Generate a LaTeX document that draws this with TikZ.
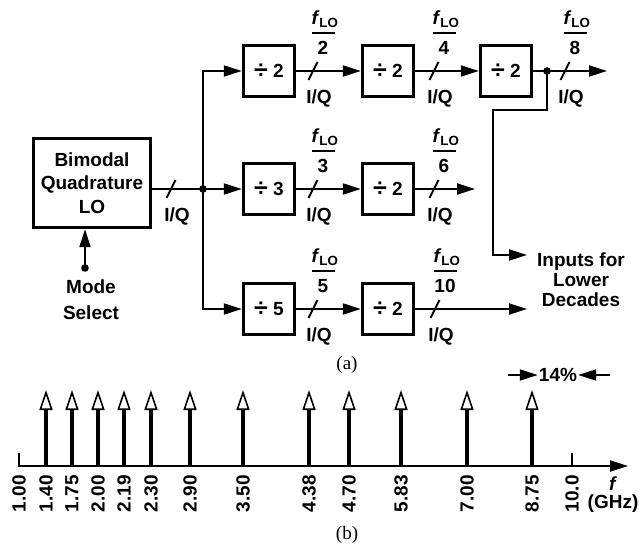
\documentclass[tikz,border=0pt]{standalone}
\usepackage{fontspec}
\setmainfont{Liberation Serif}
\newfontfamily\hv{Liberation Sans}
\usetikzlibrary{arrows.meta}

\newcommand\dv{\raisebox{-1pt}{\fontsize{25}{25}\selectfont ÷}}

\tikzset{
  iq/.pic={
    \draw[line width=1.9pt] (-4.5,9) -- (4.5,-9);
    \node[lbl] (-t) at (6,27) {I/Q};
  },
  flo/.pic={
    \node[lbl] (-num) at (12,-52) {\textit{f}\textsubscript{LO}};
    \draw[line width=2pt] (-1,-38) -- (22,-38);
    \node[lbl] (-den) at (10,-23) {#1};
  }
}

\begin{document}
\begin{tikzpicture}[x=1pt, y=-1pt,
    lbl/.style={font=\hv\bfseries\fontsize{19}{22}\selectfont, inner sep=1pt},
    divbox/.style={draw, line width=3.4pt, minimum width=51pt, minimum height=51pt, lbl},
    wire/.style={line width=2pt},
    sig/.style={wire, -{Triangle[length=18pt, width=11pt]}},
    imp/.style={line width=3.4pt, -{Triangle[open, length=20pt, width=13pt, line width=1.6pt]}}]
  \useasboundingbox (0,0) rectangle (640,548);

  % Oscilador y selector de modo
  \node[draw, line width=3.4pt, minimum width=117pt, minimum height=89pt, align=center,
        font=\hv\bfseries\fontsize{19}{23.5}\selectfont] (lo) at (92,183)
        {Bimodal\\Quadrature\\LO};
  \node[align=center, font=\hv\bfseries\fontsize{19}{26}\selectfont] (mode) at (91,300)
        {Mode\\Select};
  \coordinate (ms) at (85,268);
  \fill (ms) circle (3.8);
  \draw[sig] (ms) -- (ms |- lo.south);

  % Divisores
  \node[divbox] (d2a) at (269,71)  {\dv\ 2};
  \node[divbox] (d2b) at (388,71)  {\dv\ 2};
  \node[divbox] (d2c) at (506,71)  {\dv\ 2};
  \node[divbox] (d3)  at (269,189) {\dv\ 3};
  \node[divbox] (d2d) at (388,189) {\dv\ 2};
  \node[divbox] (d5)  at (269,309) {\dv\ 5};
  \node[divbox] (d2e) at (388,309) {\dv\ 2};

  % Reparto de la salida I/Q
  \coordinate (j) at (203,189);
  \draw[wire] (lo.east |- j) -- (j);
  \fill (j) circle (3.8);
  \draw[sig] (j) |- (d2a);
  \draw[sig] (j) -- (d3);
  \draw[sig] (j) |- (d5);

  % Cadenas de divisores
  \coordinate (k) at (547,71);
  \coordinate (o8) at (607,71);
  \coordinate (o6) at (475,189);
  \coordinate (o10) at (527,309);
  \coordinate (fb) at (527,255);
  \draw[sig] (d2a) -- (d2b);
  \draw[sig] (d2b) -- (d2c);
  \draw[wire] (d2c) -- (k);
  \fill (k) circle (3.8);
  \draw[sig] (k) -- (o8);
  \draw[sig] (k) -- ++(0,39) -- ++(-54,0) |- (fb);
  \draw[sig] (d3) -- (d2d);
  \draw[sig] (d2d) -- (o6);
  \draw[sig] (d5) -- (d2e);
  \draw[sig] (d2e) -- (o10);
  \node[align=center, font=\hv\bfseries\fontsize{19}{20}\selectfont] (inp) at (581,280)
        {Inputs for\\Lower\\Decades};

  % Marcas I/Q y frecuencias
  \pic (s0) at (171,189) {iq};
  \pic (s1) at (313,71)  {iq};
  \pic (s2) at (434,71)  {iq};
  \pic (s3) at (565,71)  {iq};
  \pic (s4) at (313,189) {iq};
  \pic (s5) at (434,189) {iq};
  \pic (s6) at (313,309) {iq};
  \pic (s7) at (435,309) {iq};
  \pic (f1) at (313,71)  {flo=2};
  \pic (f2) at (434,71)  {flo=4};
  \pic (f3) at (565,71)  {flo=8};
  \pic (f4) at (313,189) {flo=3};
  \pic (f5) at (434,189) {flo=6};
  \pic (f6) at (313,309) {flo=5};
  \pic (f7) at (435,309) {flo=10};

  \node[font=\fontsize{19}{22}\selectfont] (capa) at (347,365) {(a)};

  % Espectro
  \draw[wire, -{Triangle[length=18pt, width=11pt]}] (19,453) -- (19,466) -- (628,466);
  \draw[wire] (572,466) -- (572,453);
  \node[lbl, rotate=90, anchor=east] (t0) at (19,474) {1.00};
  \node[lbl, rotate=90, anchor=east] (t13) at (572,474) {10.0};
  \foreach \x/\v [count=\i] in {46/1.40, 72/1.75, 98/2.00, 124/2.19, 151/2.30,
      190/2.90, 243/3.50, 309/4.38, 349/4.70, 401/5.83, 467/7.00, 532/8.75} {
    \draw[imp] (\x,466) -- (\x,390);
    \node[lbl, rotate=90, anchor=east] (t\i) at (\x,474) {\v};
  }
  \node[lbl, inner sep=0pt] (fax) at (613,484) {\textit{f}};
  \node[lbl, inner sep=0pt] (ghz) at (613,504) {(GHz)};

  % Ancho relativo
  \node[lbl] (pct) at (558,375) {14\%};
  \draw[sig] (pct.west) ++(-30,0) -- (pct.west);
  \draw[sig] (pct.east) ++(32,0) -- (pct.east);

  \node[font=\fontsize{19}{22}\selectfont] (capb) at (347,535) {(b)};
\end{tikzpicture}
\end{document}
